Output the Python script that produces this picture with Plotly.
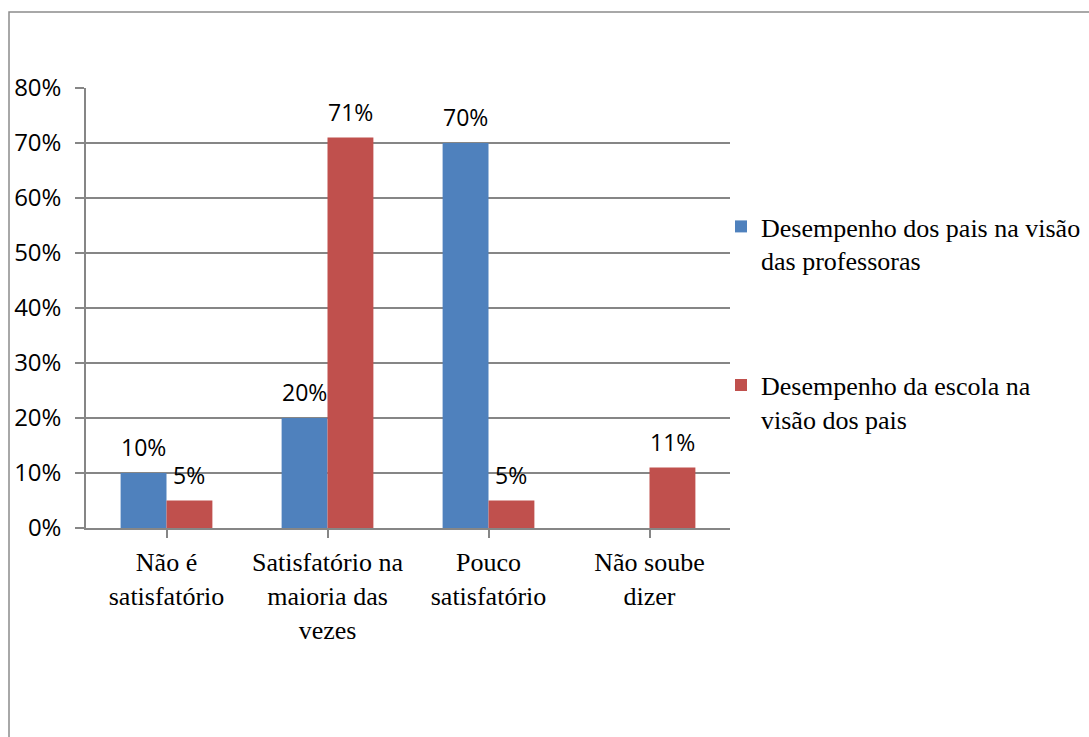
import plotly.graph_objects as go

# Survey categories and percentages for each series
categories = ["Não é<br>satisfatório", "Satisfatório na<br>maioria das<br>vezes",
              "Pouco<br>satisfatório", "Não soube<br>dizer"]
professoras = [10, 20, 70, None]
pais = [5, 71, 5, 11]
series_names = ["Desempenho dos pais na visão<br>das professoras",
                "Desempenho da escola na<br>visão dos pais"]
series_colors = ["#4F81BD", "#C0504D"]
y_ticks = [0, 10, 20, 30, 40, 50, 60, 70, 80]

GRID = "#868686"
SANS = "Open Sans"
SERIF = "Liberation Serif"
BARGAP = 0.43

fig = go.Figure()
for i, (name, vals, col) in enumerate(zip(series_names, [professoras, pais], series_colors)):
    fig.add_trace(go.Bar(
        x=list(range(len(categories))), y=vals, name=name,
        marker=dict(color=col, line=dict(width=0)),
        legendgroup=f"g{i}",
    ))

# value labels above each bar
bar_w = (1 - BARGAP) / 2
annotations = []
for k, vals in enumerate([professoras, pais]):
    off = (k - 0.5) * bar_w
    for j, v in enumerate(vals):
        if v is None:
            continue
        annotations.append(dict(
            x=j + off, y=v, xref="x", yref="y", text=f"{v}%",
            showarrow=False, yanchor="bottom", yshift=8,
            font=dict(family=SANS, size=23, color="#000000"),
        ))

fig.update_layout(
    width=1089, height=737,
    margin=dict(l=86, r=359, t=88, b=209, autoexpand=False),
    paper_bgcolor="white", plot_bgcolor="white",
    barmode="group", bargap=BARGAP, bargroupgap=0,
    annotations=annotations,
    showlegend=True,
    legend=dict(
        xref="container", yref="container",
        x=721 / 1089, xanchor="left", y=1 - 203 / 737, yanchor="top",
        font=dict(family=SERIF, size=26, color="#000000"),
        tracegroupgap=88, valign="top", traceorder="grouped",
        bgcolor="rgba(0,0,0,0)", itemclick=False,
    ),
    xaxis=dict(
        tickmode="array", tickvals=list(range(len(categories))), ticktext=categories,
        range=[-0.5, len(categories) - 0.5],
        tickfont=dict(family=SERIF, size=26, color="#000000"),
        showgrid=False, zeroline=False,
        showline=True, linecolor=GRID, linewidth=1.5,
        ticks="outside", ticklen=8, tickcolor=GRID, tickwidth=1.5,
        tickson="boundaries", ticklabelstandoff=2,
    ),
    yaxis=dict(
        range=[0, 80], tickvals=y_ticks, ticktext=[f"{t}%" for t in y_ticks],
        tickfont=dict(family=SANS, size=24, color="#000000"),
        showgrid=True, gridcolor=GRID, gridwidth=1.5,
        zeroline=False, showline=True, linecolor=GRID, linewidth=1.5,
        ticks="outside", ticklen=9, tickcolor=GRID, tickwidth=1.5,
        ticklabelstandoff=9,
    ),
    shapes=[dict(
        type="rect", xref="paper", yref="paper",
        x0=(9 - 86) / 644, x1=(1100 - 86) / 644,
        y0=-(760 - 528) / 440, y1=1 + (88 - 12) / 440,
        line=dict(color="#8C8C8C", width=1.5), fillcolor="rgba(0,0,0,0)", layer="below",
    )],
)

fig.write_html("out.html")
